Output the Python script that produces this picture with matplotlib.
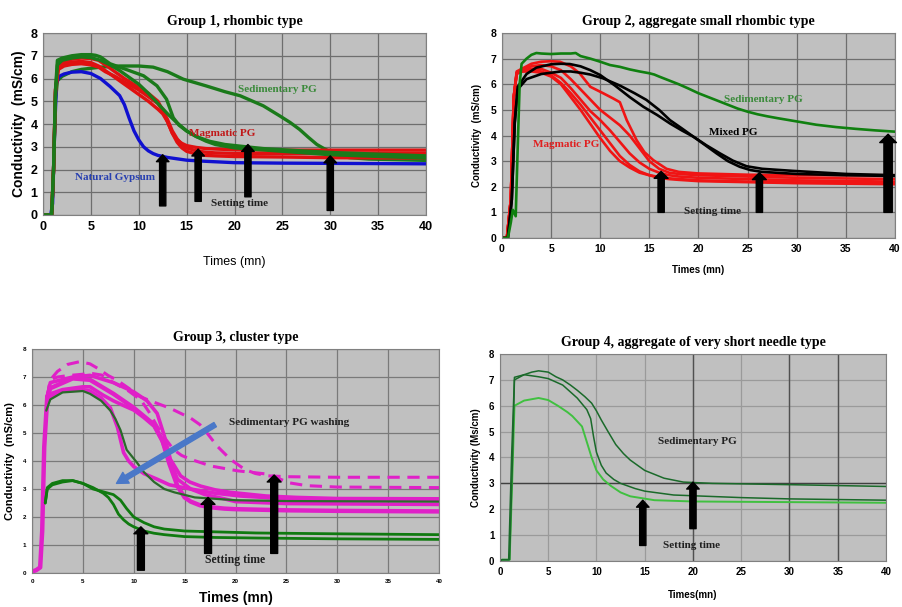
import matplotlib
matplotlib.use('Agg')
import matplotlib.pyplot as plt

# ---------------- datos ----------------
# Grupo 1, rombico
g1_blue_t = [0, 0.8, 1.0, 1.2, 1.4, 1.7, 2.2, 3, 4, 5, 6, 7, 8, 8.5, 9, 9.5, 10, 10.5, 11, 11.5, 12, 13, 14, 15, 17, 20, 25, 30, 40]
g1_blue_y = [0, 0, 0.5, 3.5, 5.8, 6.1, 6.2, 6.28, 6.3, 6.22, 6.0, 5.65, 5.25, 4.85, 4.25, 3.7, 3.3, 3.0, 2.82, 2.7, 2.62, 2.53, 2.47, 2.41, 2.36, 2.3, 2.28, 2.27, 2.25]

g1_red_t = [0, 0.9, 1.1, 1.3, 1.6, 2.2, 3, 4, 5, 5.8, 6.5, 7.5, 8.5, 10, 11, 12, 12.5, 13, 13.5, 14, 14.5, 15, 16, 17, 18, 20, 25, 30, 40]
g1_red1_y = [0, 0, 2, 5.5, 6.6, 6.75, 6.85, 6.9, 6.88, 6.8, 6.6, 6.3, 6.0, 5.6, 5.35, 5.0, 4.6, 4.1, 3.6, 3.3, 3.15, 3.05, 2.97, 2.92, 2.9, 2.87, 2.85, 2.85, 2.85]
g1_red2_y = [0, 0, 2, 5.5, 6.5, 6.65, 6.72, 6.75, 6.7, 6.55, 6.35, 6.05, 5.75, 5.3, 5.0, 4.65, 4.45, 4.1, 3.6, 3.2, 2.95, 2.8, 2.68, 2.62, 2.6, 2.57, 2.55, 2.52, 2.5]
g1_red3_y = [0, 0, 2, 5.4, 6.4, 6.55, 6.62, 6.65, 6.6, 6.5, 6.3, 6.1, 5.85, 5.5, 5.2, 4.9, 4.6, 4.2, 3.7, 3.35, 3.1, 2.95, 2.82, 2.76, 2.73, 2.71, 2.7, 2.7, 2.7]

g1_grnA_t = [0, 0.9, 1.1, 1.3, 1.5, 2, 3, 4, 5, 5.5, 6, 6.5, 7, 8, 9, 10.5, 11.9, 12.9, 13.6, 14.2, 15, 16, 17.4, 19, 21.2, 23, 25, 30, 40]
g1_grnA_y = [0, 0, 2, 5.5, 6.8, 6.9, 7.0, 7.05, 7.05, 7.02, 6.95, 6.8, 6.65, 6.5, 6.35, 6.12, 5.68, 5.09, 4.28, 3.95, 3.69, 3.45, 3.24, 3.1, 3.0, 2.92, 2.87, 2.75, 2.6]
g1_grnB_t = [0, 0.9, 1.1, 1.3, 1.5, 2, 3, 4, 6, 8, 10, 11.5, 13, 14.65, 17, 19, 20.6, 23, 24.75, 25.8, 26.8, 27.7, 28.6, 29.3, 30, 31, 32, 34, 40]
g1_grnB_y = [0, 0, 2, 5.0, 5.9, 6.1, 6.3, 6.4, 6.5, 6.55, 6.55, 6.5, 6.3, 5.97, 5.68, 5.42, 5.24, 4.8, 4.35, 4.07, 3.76, 3.42, 3.1, 2.93, 2.78, 2.6, 2.52, 2.46, 2.4]
g1_grnC_t = [0, 0.9, 1.1, 1.3, 1.5, 2, 3, 4, 5, 6, 7, 8, 9, 10, 11, 12, 13, 14, 15, 16, 17, 18, 20, 25, 30, 40]
g1_grnC_y = [0, 0, 2, 5.3, 6.6, 6.8, 6.9, 6.95, 6.92, 6.8, 6.6, 6.35, 6.05, 5.75, 5.35, 4.9, 4.45, 4.05, 3.7, 3.45, 3.25, 3.1, 2.95, 2.8, 2.65, 2.5]

g1_arrow_x = [12.5, 16.2, 21.4, 30.0]
g1_arrow_base = [0.4, 0.6, 0.8, 0.2]
g1_arrow_tip = [2.65, 2.9, 3.1, 2.6]

# Grupo 2, agregado rombico pequeno
g2_grn_t = [0, 0.6, 0.9, 1.1, 1.4, 1.6, 1.8, 2.0, 2.5, 3, 3.5, 4, 5, 6, 7, 7.5, 8, 9, 10, 11, 12, 13, 14, 15,
            15.5, 16, 17, 18, 19, 20, 21, 22, 23, 24, 25, 26, 27, 28, 30, 32, 34, 36, 38, 40]
g2_grn_y = [0, 0, 0.6, 1.1, 0.85, 3.5, 6.0, 6.8, 7.0, 7.15, 7.22, 7.2, 7.18, 7.2, 7.2, 7.22, 7.1, 7.0, 6.88, 6.75,
            6.68, 6.58, 6.5, 6.43, 6.38, 6.3, 6.15, 6.0, 5.83, 5.65, 5.5, 5.35, 5.2, 5.05, 4.93, 4.83, 4.75, 4.68,
            4.55, 4.42, 4.33, 4.26, 4.2, 4.15]

g2_blk1_t = [0, 0.6, 1.0, 1.3, 1.6, 2.5, 4, 5, 6, 7, 8, 9, 10.3, 12, 13.5, 14.7, 16, 17.1, 18.3, 19.5, 20.8, 22.2, 23.5, 24.9, 26.5, 29.6, 35, 40]
g2_blk1_y = [0, 0, 1.5, 4.5, 5.8, 6.2, 6.4, 6.45, 6.5, 6.5, 6.45, 6.38, 6.23, 5.95, 5.65, 5.39, 5.0, 4.6, 4.28, 3.95, 3.62, 3.3, 3.02, 2.8, 2.7, 2.62, 2.5, 2.45]
g2_blk2_t = [0, 0.6, 1.0, 1.3, 1.6, 2.5, 3.5, 5, 6, 6.9, 8, 9, 10, 11.5, 13, 14.4, 15.8, 17.1, 18.3, 19.5, 20.7, 21.85, 23, 24.2, 25.3, 26.5, 30, 35, 40]
g2_blk2_y = [0, 0, 1.5, 4.5, 5.9, 6.4, 6.65, 6.78, 6.8, 6.79, 6.7, 6.55, 6.36, 5.95, 5.5, 5.12, 4.8, 4.47, 4.2, 3.95, 3.62, 3.3, 3.0, 2.78, 2.65, 2.58, 2.5, 2.45, 2.42]

g2_red_t = [0, 0.5, 0.9, 1.2, 1.5, 2, 3, 4, 5, 6, 7, 8, 9, 10, 11, 12, 13, 14, 15, 16, 17, 18, 20, 25, 30, 40]
g2_red1_t = [0, 0.5, 0.9, 1.2, 1.5, 2, 3, 4, 5, 5.9, 7, 7.9, 9, 10.3, 11.3, 12.0, 12.7, 13.7, 14.5, 15.4, 16.75, 18, 20, 25, 30, 40]
g2_red1_y = [0, 0, 1.5, 5.5, 6.4, 6.6, 6.8, 6.88, 6.9, 6.88, 6.7, 6.43, 5.9, 5.65, 5.45, 5.3, 4.6, 3.82, 3.35, 3.04, 2.7, 2.58, 2.52, 2.47, 2.45, 2.45]
g2_red2_y = [0, 0, 1.5, 5.5, 6.5, 6.6, 6.7, 6.75, 6.7, 6.55, 6.2, 5.8, 5.4, 5.0, 4.7, 4.4, 4.0, 3.5, 3.0, 2.7,
             2.55, 2.5, 2.45, 2.4, 2.35, 2.3]
g2_red3_y = [0, 0, 1.5, 5.5, 6.45, 6.55, 6.6, 6.6, 6.45, 6.25, 5.85, 5.4, 4.95, 4.6, 4.2, 3.75, 3.3, 2.95, 2.7, 2.55,
             2.45, 2.4, 2.35, 2.3, 2.25, 2.2]
g2_red4_y = [0, 0, 1.5, 5.5, 6.4, 6.5, 6.5, 6.45, 6.3, 6.0, 5.5, 5.0, 4.45, 3.9, 3.4, 3.0, 2.75, 2.55, 2.45, 2.38,
             2.33, 2.3, 2.25, 2.2, 2.17, 2.15]
g2_red5_y = [0, 0, 1.5, 5.5, 6.45, 6.5, 6.55, 6.5, 6.35, 6.05, 5.65, 5.2, 4.7, 4.2, 3.7, 3.2, 2.85, 2.6, 2.45, 2.35,
             2.3, 2.27, 2.22, 2.18, 2.14, 2.1]

g2_arrow_x = [16.2, 26.2, 39.3]
g2_arrow_base = [1.0, 1.0, 1.0]
g2_arrow_tip = [2.6, 2.55, 4.05]

# Grupo 3, cluster
g3_rise_t = [0, 0.4, 0.8, 1.0, 1.2, 1.5]
g3_rise_y = [0.05, 0.1, 0.2, 1.5, 4.5, 6.3]

g3_dash1_t = [1.5, 1.8, 2.5, 3.5, 4.7, 5.7, 6.5, 7.5, 8.3, 9.5, 10.6, 12, 13.6, 15.6, 16.5, 17.2, 18.2, 19.5, 20.9, 22, 23.2, 25, 30, 40]
g3_dash1_y = [6.3, 6.9, 7.2, 7.45, 7.55, 7.47, 7.3, 7.05, 6.9, 6.6, 6.3, 6.1, 5.88, 5.53, 5.3, 5.0, 4.53, 4.06, 3.7, 3.55, 3.47, 3.44, 3.42, 3.42]
g3_dash2_t = [1.5, 1.8, 2.5, 3.5, 5, 6, 6.85, 8, 9.5, 10.7, 11.5, 12.3, 13.1, 13.9, 14.7, 15.6, 17.6, 20.2, 23.2, 24.2, 25.3, 27, 30, 40]
g3_dash2_y = [6.3, 6.9, 7.0, 7.05, 7.1, 7.12, 7.07, 6.8, 6.5, 6.18, 5.75, 5.24, 4.8, 4.41, 4.2, 4.06, 3.82, 3.65, 3.53, 3.38, 3.22, 3.12, 3.07, 3.05]

g3_mag1_t = [1.5, 1.8, 4, 5.7, 8, 10, 11.3, 12.3, 13, 13.6, 14.6, 15.5, 16.6, 18, 19.5, 23, 26, 30, 40]
g3_mag1_y = [6.3, 6.8, 7.0, 7.06, 6.8, 6.47, 6.15, 5.7, 4.9, 4.06, 3.47, 3.25, 3.1, 2.97, 2.88, 2.75, 2.7, 2.66, 2.65]
g3_mag2_t = [1.5, 1.8, 4, 5.7, 8, 10, 12, 12.8, 13.5, 14.3, 15, 15.6, 16.5, 17.5, 18.9, 20, 25, 30, 40]
g3_mag2_y = [6.3, 6.6, 6.95, 6.9, 6.4, 5.9, 5.3, 4.75, 3.9, 3.1, 2.7, 2.55, 2.42, 2.35, 2.3, 2.28, 2.24, 2.22, 2.2]
g3_mag3_t = [1.5, 1.8, 3, 5, 5.7, 7, 8, 9, 10, 11, 12, 12.8, 13.5, 14.3, 15.6, 17, 18.9, 20, 25, 40]
g3_mag3_y = [6.2, 6.4, 6.55, 6.65, 6.65, 6.35, 6.15, 5.98, 5.82, 5.55, 5.24, 4.7, 4.06, 3.35, 3.0, 2.8, 2.65, 2.55, 2.48, 2.45]
g3_mag4_t = [1.5, 1.8, 3, 5, 5.7, 6.8, 7.7, 8.4, 9, 9.5, 10, 11, 12.3, 13.5, 15.6, 18, 20.5, 25, 40]
g3_mag4_y = [6.1, 6.3, 6.5, 6.55, 6.5, 6.25, 5.9, 5.2, 4.3, 4.0, 3.8, 3.55, 3.35, 3.15, 3.0, 2.85, 2.75, 2.65, 2.6]

g3_grn1_t = [1.4, 1.8, 3, 5, 5.7, 6.8, 7.7, 8.2, 8.7, 9.3, 10.3, 11, 12, 13, 14, 16, 20, 25, 40]
g3_grn1_y = [5.8, 6.2, 6.45, 6.5, 6.4, 6.15, 5.8, 5.5, 5.1, 4.4, 3.95, 3.6, 3.25, 3.0, 2.88, 2.7, 2.6, 2.57, 2.55]
g3_grn2_t = [1.3, 1.5, 2, 3, 4, 5, 6, 7, 8, 8.7, 9.3, 10, 11, 12, 13, 15, 18, 22, 30, 40]
g3_grn2_y = [2.5, 3.0, 3.15, 3.25, 3.3, 3.2, 3.0, 2.9, 2.8, 2.6, 2.3, 2.0, 1.8, 1.65, 1.57, 1.5, 1.47, 1.43, 1.4, 1.37]
g3_grn3_t = [1.3, 1.5, 2, 3, 4, 5, 6, 7, 7.5, 8, 8.5, 9, 9.5, 10, 11, 12, 13, 15, 18, 22, 30, 40]
g3_grn3_y = [2.5, 3.05, 3.2, 3.3, 3.3, 3.2, 3.05, 2.85, 2.7, 2.45, 2.1, 1.9, 1.75, 1.65, 1.5, 1.42, 1.37, 1.3,
             1.27, 1.25, 1.22, 1.2]

g3_arrow_x = [10.7, 17.3, 23.8]
g3_arrow_base = [0.1, 0.7, 0.7]
g3_arrow_tip = [1.65, 2.7, 3.5]
g3_wash_from = (18.0, 5.3)
g3_wash_to = (8.3, 3.2)

# Grupo 4, agujas muy cortas
g4_dg1_t = [0, 0.2, 1.0, 1.3, 1.5, 2.5, 3.3, 4, 5, 5.8, 6.5, 7.3, 8, 8.8, 9.5, 10, 10.5, 11.2, 12, 12.8, 13.5, 15, 16, 17, 19, 22, 30, 40]
g4_dg1_y = [0, 0.05, 0.05, 4.0, 7.0, 7.2, 7.3, 7.35, 7.3, 7.12, 7.0, 6.8, 6.6, 6.35, 6.1, 5.8, 5.45, 5.0, 4.5, 4.15, 3.9, 3.5, 3.35, 3.2, 3.05, 3.0, 2.95, 2.88]
g4_dg2_t = [0, 0.2, 0.9, 1.2, 1.5, 2.5, 4, 5, 6.5, 8, 9, 9.4, 9.7, 10, 10.5, 11, 11.8, 12.5, 14, 15, 18, 25, 30, 40]
g4_dg2_y = [0, 0.05, 0.05, 4.0, 7.1, 7.2, 7.12, 7.05, 6.8, 6.3, 5.85, 5.5, 4.8, 4.2, 3.7, 3.4, 3.15, 3.0, 2.8, 2.7, 2.55, 2.45, 2.4, 2.35]
g4_lg_t = [0, 0.2, 1.0, 1.3, 1.5, 2.5, 4, 5, 6, 7, 7.5, 8.5, 9, 9.5, 10, 10.7, 11.5, 12.5, 13.5, 16, 20, 40]
g4_lg_y = [0, 0.05, 0.05, 3.5, 6.0, 6.2, 6.3, 6.22, 6.0, 5.75, 5.6, 5.2, 4.6, 4.0, 3.5, 3.15, 2.9, 2.65, 2.5, 2.35, 2.3, 2.25]

g4_arrow_x = [14.8, 20.0]
g4_arrow_base = [0.6, 1.25]
g4_arrow_tip = [2.35, 3.05]

xticks = [0, 5, 10, 15, 20, 25, 30, 35, 40]
yticks = [0, 1, 2, 3, 4, 5, 6, 7, 8]

# ---------------- figura ----------------
plt.rcParams['lines.solid_joinstyle'] = 'round'
plt.rcParams['lines.solid_capstyle'] = 'round'
fig = plt.figure(figsize=(9.02, 6.07), dpi=100)
serif = 'Liberation Serif'
sans = 'Liberation Sans'
BG = '#c0c0c0'


def prep(ax, tick_fs, grid_col='#6e6e6e'):
    ax.set_facecolor(BG)
    ax.set_xlim(0, 40)
    ax.set_ylim(0, 8)
    ax.set_xticks(xticks)
    ax.set_yticks(yticks)
    ax.grid(True, color=grid_col, lw=0.9)
    ax.set_axisbelow(True)
    for s in ax.spines.values():
        s.set_color('#808080')
    ax.tick_params(length=0, pad=4, labelsize=tick_fs)
    for lab in ax.get_xticklabels() + ax.get_yticklabels():
        lab.set_fontfamily(sans)
        lab.set_fontweight('bold')


def arrows(ax, xs, bases, tips, w=4.5, hw=9, hl=5):
    for x, b, t in zip(xs, bases, tips):
        ax.annotate('', xy=(x, t), xytext=(x, b),
                    arrowprops=dict(facecolor='black', edgecolor='black', width=w,
                                    headwidth=hw, headlength=hl, shrink=0))


# ---- Grupo 1 ----
ax1 = fig.add_axes([0.0477, 0.6458, 0.4246, 0.2998])
prep(ax1, 9)
lw1 = 2.4
ax1.plot(g1_grnB_t, g1_grnB_y, color='#1a7a1a', lw=lw1)
ax1.plot(g1_blue_t, g1_blue_y, color='#1010d0', lw=lw1)
ax1.plot(g1_red_t, g1_red1_y, color='#e01010', lw=lw1)
ax1.plot(g1_red_t, g1_red2_y, color='#e01010', lw=lw1)
ax1.plot(g1_red_t, g1_red3_y, color='#e01010', lw=lw1)
ax1.plot(g1_grnA_t, g1_grnA_y, color='#1a7a1a', lw=lw1)
ax1.plot(g1_grnC_t, g1_grnC_y, color='#1a7a1a', lw=lw1)
arrows(ax1, g1_arrow_x, g1_arrow_base, g1_arrow_tip)
ax1.text(24.5, 5.5, 'Sedimentary PG', color='#3a8a3a', fontsize=8, fontweight='bold', family=serif, ha='center', va='center')
ax1.text(18.7, 3.58, 'Magmatic PG', color='#c01818', fontsize=8, fontweight='bold', family=serif, ha='center', va='center')
ax1.text(7.5, 1.65, 'Natural Gypsum', color='#2840b0', fontsize=8, fontweight='bold', family=serif, ha='center', va='center')
ax1.text(20.5, 0.5, 'Setting time', color='#202020', fontsize=8, fontweight='bold', family=serif, ha='center', va='center')
ax1.set_title('Group 1, rhombic type', family=serif, fontweight='bold', fontsize=10, pad=6)
ax1.set_ylabel('Conductivity  (mS/cm)', family=sans, fontweight='bold', fontsize=10, labelpad=3)
ax1.set_xlabel('Times (mn)', family=sans, fontsize=9, labelpad=17)

# ---- Grupo 2 ----
ax2 = fig.add_axes([0.5565, 0.6079, 0.4357, 0.3377])
prep(ax2, 7.5)
lw2 = 1.9
for ry in [g2_red2_y, g2_red3_y, g2_red4_y, g2_red5_y]:
    ax2.plot(g2_red_t, ry, color='#f01414', lw=lw2)
ax2.plot(g2_red1_t, g2_red1_y, color='#f01414', lw=lw2)
ax2.plot(g2_blk1_t, g2_blk1_y, color='black', lw=lw2)
ax2.plot(g2_blk2_t, g2_blk2_y, color='black', lw=lw2)
ax2.plot(g2_grn_t, g2_grn_y, color='#108010', lw=lw2)
arrows(ax2, g2_arrow_x[:2], g2_arrow_base[:2], g2_arrow_tip[:2], w=4.5, hw=10, hl=5)
arrows(ax2, g2_arrow_x[2:], g2_arrow_base[2:], g2_arrow_tip[2:], w=6, hw=12, hl=6)
ax2.text(26.6, 5.42, 'Sedimentary PG', color='#3a8a3a', fontsize=8, fontweight='bold', family=serif, ha='center', va='center')
ax2.text(23.5, 4.1, 'Mixed PG', color='black', fontsize=8, fontweight='bold', family=serif, ha='center', va='center')
ax2.text(6.5, 3.63, 'Magmatic PG', color='#e02020', fontsize=8, fontweight='bold', family=serif, ha='center', va='center')
ax2.text(21.4, 1.05, 'Setting time', color='#202020', fontsize=8, fontweight='bold', family=serif, ha='center', va='center')
ax2.set_title('Group 2, aggregate small rhombic type', family=serif, fontweight='bold', fontsize=10, pad=6)
ax2.set_ylabel('Conductivity  (mS/cm)', family=sans, fontweight='bold', fontsize=7, labelpad=6)
ax2.set_xlabel('Times (mn)', family=sans, fontweight='bold', fontsize=7, labelpad=8)

# ---- Grupo 3 ----
ax3 = fig.add_axes([0.0355, 0.0560, 0.4512, 0.3690])
prep(ax3, 4.5, grid_col='#7a7a7a')
MAG = '#e020c8'
lw3 = 2.6
ax3.plot(g3_rise_t, g3_rise_y, color=MAG, lw=3.2)
ax3.plot(g3_grn2_t, g3_grn2_y, color='#107a10', lw=2)
ax3.plot(g3_grn3_t, g3_grn3_y, color='#107a10', lw=2)
ax3.plot(g3_mag1_t, g3_mag1_y, color=MAG, lw=lw3)
ax3.plot(g3_mag2_t, g3_mag2_y, color=MAG, lw=3.2)
ax3.plot(g3_mag3_t, g3_mag3_y, color=MAG, lw=lw3)
ax3.plot(g3_mag4_t, g3_mag4_y, color=MAG, lw=lw3)
ax3.plot(g3_grn1_t, g3_grn1_y, color='#2a6a2a', lw=1.6)
ax3.plot(g3_dash1_t, g3_dash1_y, color=MAG, lw=2.2, ls=(0, (4, 2.5)))
ax3.plot(g3_dash2_t, g3_dash2_y, color=MAG, lw=2.2, ls=(0, (4, 2.5)))
arrows(ax3, g3_arrow_x, g3_arrow_base, g3_arrow_tip, w=5, hw=10, hl=5)
ax3.annotate('', xy=g3_wash_to, xytext=g3_wash_from,
             arrowprops=dict(facecolor='#4a78c8', edgecolor='#4a78c8', width=3.5, headwidth=9, headlength=8, shrink=0))
ax3.text(25.3, 5.36, 'Sedimentary PG washing', color='#202020', fontsize=8, fontweight='bold', family=serif, ha='center', va='center')
ax3.text(20.0, 0.46, 'Setting time', color='#202020', fontsize=8.5, fontweight='bold', family=serif, ha='center', va='center')
ax3.set_title('Group 3, cluster type', family=serif, fontweight='bold', fontsize=10, pad=6)
ax3.set_ylabel('Conductivity  (mS/cm)', family=sans, fontweight='bold', fontsize=8, labelpad=6)
ax3.set_xlabel('Times (mn)', family=sans, fontweight='bold', fontsize=10, labelpad=5)

# ---- Grupo 4 ----
ax4 = fig.add_axes([0.5543, 0.0758, 0.4279, 0.3410])
prep(ax4, 7, grid_col='#9a9a9a')
ax4.axvline(20, color='#505050', lw=1)
ax4.axvline(30, color='#505050', lw=1)
ax4.axvline(35, color='#505050', lw=1)
ax4.axhline(3, color='#404040', lw=1)
ax4.plot(g4_lg_t, g4_lg_y, color='#40c040', lw=1.4)
ax4.plot(g4_dg2_t, g4_dg2_y, color='#1a6a2a', lw=1.1)
ax4.plot(g4_dg1_t, g4_dg1_y, color='#1a6a2a', lw=1.1)
arrows(ax4, g4_arrow_x, g4_arrow_base, g4_arrow_tip, w=4.5, hw=9, hl=5)
ax4.text(20.5, 4.6, 'Sedimentary PG', color='#202020', fontsize=8, fontweight='bold', family=serif, ha='center', va='center')
ax4.text(19.9, 0.58, 'Setting time', color='#202020', fontsize=8, fontweight='bold', family=serif, ha='center', va='center')
ax4.set_title('Group 4, aggregate of very short needle type', family=serif, fontweight='bold', fontsize=10, pad=6)
ax4.set_ylabel('Conductivity (Ms/cm)', family=sans, fontweight='bold', fontsize=7, labelpad=6)
ax4.set_xlabel('Times(mn)', family=sans, fontweight='bold', fontsize=7, labelpad=10)

fig.savefig('out.png', dpi=100)
